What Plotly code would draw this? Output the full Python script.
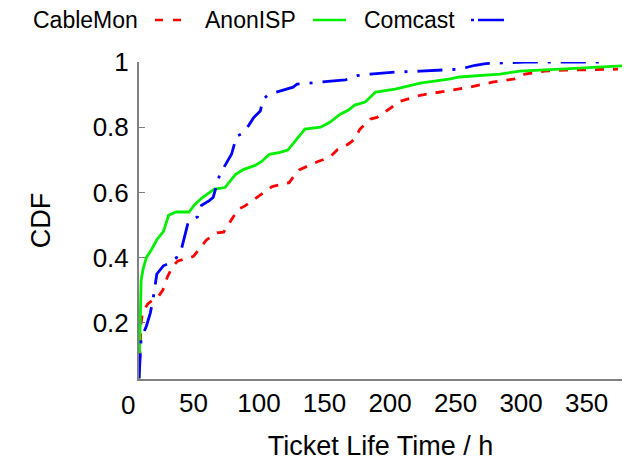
import plotly.graph_objects as go

# ---- data ----
cablemon_x = [8.4, 10, 11, 15, 19, 23, 26.5, 30, 34, 38, 45, 50, 55, 60, 68, 73, 78, 84, 89, 100,
              110, 123, 127, 131, 145, 154, 160, 168, 173, 177, 185, 190, 196, 208, 223, 240, 261, 278, 295, 303,
              318, 334, 360, 374]
cablemon_y = [0.03, 0.20, 0.23, 0.258, 0.27, 0.28, 0.30, 0.34, 0.373, 0.39, 0.398, 0.404, 0.43, 0.455, 0.476, 0.478, 0.51, 0.548, 0.558, 0.59,
              0.618, 0.63, 0.652, 0.67, 0.695, 0.708, 0.732, 0.748, 0.763, 0.794, 0.825, 0.83, 0.846, 0.88, 0.898, 0.91, 0.923, 0.938, 0.948, 0.963,
              0.972, 0.975, 0.978, 0.978]

anonisp_x = [8.4, 9, 10, 11.5, 14, 18, 22, 27, 31, 36.6, 46.6, 51, 57, 66, 74, 82, 88, 97, 102, 108,
             116, 122, 131, 135, 147, 154, 162, 168, 173, 181, 183, 189, 204, 223, 246, 253, 284, 299, 330, 377]
anonisp_y = [0.03, 0.20, 0.33, 0.365, 0.40, 0.425, 0.455, 0.48, 0.53, 0.54, 0.54, 0.563, 0.585, 0.61, 0.615, 0.655, 0.67, 0.683, 0.695, 0.717,
             0.723, 0.73, 0.775, 0.794, 0.80, 0.815, 0.84, 0.852, 0.868, 0.877, 0.885, 0.908, 0.917, 0.935, 0.948, 0.954, 0.963, 0.972, 0.978, 0.988]

comcast_x = [8.4, 9, 10, 11, 14, 17, 19, 22, 27, 30, 37, 41, 46, 53, 56, 62, 65, 70, 74, 79,
             83, 87, 92, 96, 101, 103, 107, 115, 126, 129, 136, 157, 166, 175, 185, 204, 223, 253, 265, 273,
             303, 362]
comcast_y = [0.03, 0.10, 0.15, 0.16, 0.19, 0.23, 0.27, 0.35, 0.375, 0.38, 0.40, 0.43, 0.51, 0.525, 0.56, 0.575, 0.585, 0.655, 0.684, 0.717,
             0.773, 0.78, 0.805, 0.83, 0.85, 0.885, 0.90, 0.91, 0.923, 0.932, 0.935, 0.942, 0.945, 0.958, 0.963, 0.969, 0.972, 0.978, 0.99, 0.995,
             1.0, 1.0]

x_ticks = [50, 100, 150, 200, 250, 300, 350]
y_ticks = [0.2, 0.4, 0.6, 0.8, 1.0]
y_ticktext = ["0.2", "0.4", "0.6", "0.8", "1"]

series = [
    ("CableMon", cablemon_x, cablemon_y, "#ff0000", "9px,9px"),
    ("AnonISP", anonisp_x, anonisp_y, "#00ee00", "solid"),
    ("Comcast", comcast_x, comcast_y, "#0000ff", "25px,10px,3px,10px"),
]

FONT = "Liberation Sans"
AXFONT = 26
TITLEFONT = 27
LEGFONT = 23

fig = go.Figure()
for name, xs, ys, col, dash in series:
    fig.add_trace(go.Scatter(x=xs, y=ys, mode="lines", name=name,
                             line=dict(color=col, width=2.8, dash=dash),
                             showlegend=False))

# plot area in pixels: left 139, right 622, top 62, bottom 379
L, R, T, B = 139, 622, 62, 379
W, H = 628, 464

def px(x):
    return (x - L) / (R - L)

def py(y):
    return (B - y) / (B - T)

# manual legend (text followed by line sample)
legend_items = [
    ("CableMon", 140, 155, 182, "#ff0000", "8px,10px"),
    ("AnonISP", 298, 313, 346, "#00ee00", "solid"),
    ("Comcast", 457, 471, 504, "#0000ff", "3px,4px,27px,4px"),
]
annotations = []
shapes = []
for name, tx, x0, x1, col, dash in legend_items:
    annotations.append(dict(text=name, x=px(tx), y=py(20), xref="paper", yref="paper",
                            xanchor="right", yanchor="middle", showarrow=False,
                            font=dict(size=LEGFONT, color="black", family=FONT)))
    shapes.append(dict(type="line", xref="paper", yref="paper",
                       x0=px(x0), x1=px(x1), y0=py(20), y1=py(20),
                       line=dict(color=col, width=2.6, dash=dash)))

# the "0" label sits left of the axis start
annotations.append(dict(text="0", x=px(128), y=py(405), xref="paper", yref="paper",
                        xanchor="center", yanchor="middle", showarrow=False,
                        font=dict(size=AXFONT, color="black", family=FONT)))

fig.update_layout(
    width=W, height=H,
    margin=dict(l=L, r=W - R, t=T, b=H - B),
    plot_bgcolor="white", paper_bgcolor="white",
    font=dict(family=FONT, size=AXFONT, color="black"),
    annotations=annotations, shapes=shapes,
    xaxis=dict(range=[8.4, 377], tickvals=x_ticks, showgrid=False, zeroline=False,
               showline=True, linecolor="#808080", linewidth=2, ticks="",
               automargin=False,
               title=dict(text="Ticket Life Time / h", standoff=19,
                          font=dict(size=TITLEFONT, family=FONT, color="black")),
               tickfont=dict(size=AXFONT)),
    yaxis=dict(range=[0.028, 1.0], tickvals=y_ticks, ticktext=y_ticktext,
               showgrid=False, zeroline=False, automargin=False,
               showline=True, linecolor="#808080", linewidth=2,
               ticks="inside", ticklen=6, tickcolor="#808080", tickwidth=1,
               ticklabelstandoff=3,
               title=dict(text="CDF", standoff=34,
                          font=dict(size=TITLEFONT, family=FONT, color="black")),
               tickfont=dict(size=AXFONT)),
)

fig.write_html("out.html", config={"displayModeBar": False},
               post_script="document.body.style.margin='0';")
